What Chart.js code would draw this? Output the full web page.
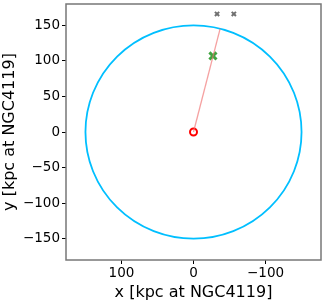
<!DOCTYPE html>
<html>
<head>
<meta charset="utf-8">
<script src="https://cdn.jsdelivr.net/npm/chart.js@4"></script>
<style>
  html, body { margin: 0; padding: 0; background: #fff; }
  #wrap { width: 327px; height: 302px; }
</style>
</head>
<body>
<div id="wrap"><canvas id="chart" width="327" height="302"></canvas></div>
<script>
// data (kpc at NGC4119)
const xTicks = [100, 0, -100];
const yTicks = [-150, -100, -50, 0, 50, 100, 150];
const ringRadius = 150;
const centre = [{ x: 0, y: 0 }];
const rayLine = [{ x: 0, y: 0 }, { x: -37, y: 145.4 }];
const targetPoint = [{ x: -27, y: 107 }];
const otherPoints = [{ x: -32.7, y: 166 }, { x: -56, y: 166 }];

const minus = v => String(v).replace('-', '\u2212');

const ringPlugin = {
  id: 'ring',
  beforeDatasetsDraw(chart) {
    const { ctx, scales: { x, y }, chartArea } = chart;
    const cx = x.getPixelForValue(0), cy = y.getPixelForValue(0);
    const rx = Math.abs(x.getPixelForValue(ringRadius) - cx);
    const ry = Math.abs(y.getPixelForValue(ringRadius) - cy);
    ctx.save();
    ctx.beginPath();
    ctx.rect(chartArea.left, chartArea.top, chartArea.width, chartArea.height);
    ctx.clip();
    ctx.beginPath();
    ctx.ellipse(cx, cy, rx, ry, 0, 0, Math.PI * 2);
    ctx.strokeStyle = '#00bfff';
    ctx.lineWidth = 1.8;
    ctx.stroke();
    ctx.restore();
  },
  afterDraw(chart) {
    const { ctx, chartArea: a } = chart;
    ctx.save();
    ctx.strokeStyle = '#777';
    ctx.lineWidth = 1.5;
    ctx.strokeRect(a.left, a.top, a.width, a.height);
    ctx.restore();
  }
};

new Chart(document.getElementById('chart'), {
  type: 'scatter',
  data: {
    datasets: [
      { data: rayLine, showLine: true, borderColor: 'rgba(240,110,110,0.65)', borderWidth: 1.3, pointRadius: 0 },
      { data: otherPoints, pointStyle: 'crossRot', pointRadius: 3, borderColor: '#707070', borderWidth: 2 },
      { data: targetPoint, pointStyle: 'crossRot', pointRadius: 5, borderColor: '#3fa33f', borderWidth: 3 },
      { data: targetPoint, pointStyle: 'crossRot', pointRadius: 2, borderColor: '#000', borderWidth: 1.2 },
      { data: centre, pointStyle: 'circle', pointRadius: 3.5, borderColor: '#ff0000', borderWidth: 2, backgroundColor: 'rgba(0,0,0,0)' }
    ]
  },
  options: {
    responsive: false,
    animation: false,
    layout: { autoPadding: false, padding: { top: 4, right: 6, left: 0, bottom: 0 } },
    plugins: { legend: { display: false }, tooltip: { enabled: false } },
    scales: {
      x: {
        type: 'linear', reverse: true, min: -177, max: 177,
        afterBuildTicks: s => { s.ticks = xTicks.map(v => ({ value: v })); },
        afterFit: s => { s.height = 42; s.paddingLeft = 0; s.paddingRight = 0; },
        grid: { drawOnChartArea: false, drawTicks: true, tickLength: 4, tickColor: '#000' },
        border: { display: false },
        ticks: { color: '#000', padding: 1, maxRotation: 0, font: { family: 'DejaVu Sans', size: 13.5 }, callback: minus },
        title: { display: true, text: 'x [kpc at NGC4119]', color: '#000', padding: { top: 0, bottom: 0 }, font: { family: 'DejaVu Sans', size: 16 } }
      },
      y: {
        type: 'linear', min: -180, max: 180,
        afterBuildTicks: s => { s.ticks = yTicks.map(v => ({ value: v })); },
        afterFit: s => { s.width = 66; s.paddingTop = 0; s.paddingBottom = 0; },
        grid: { drawOnChartArea: false, drawTicks: true, tickLength: 4, tickColor: '#000' },
        border: { display: false },
        ticks: { color: '#000', padding: 2, font: { family: 'DejaVu Sans', size: 13.5 }, callback: minus },
        title: { display: true, text: 'y [kpc at NGC4119]', color: '#000', padding: { top: 0, bottom: 2 }, font: { family: 'DejaVu Sans', size: 16 } }
      }
    }
  },
  plugins: [ringPlugin]
});
</script>
</body>
</html>
